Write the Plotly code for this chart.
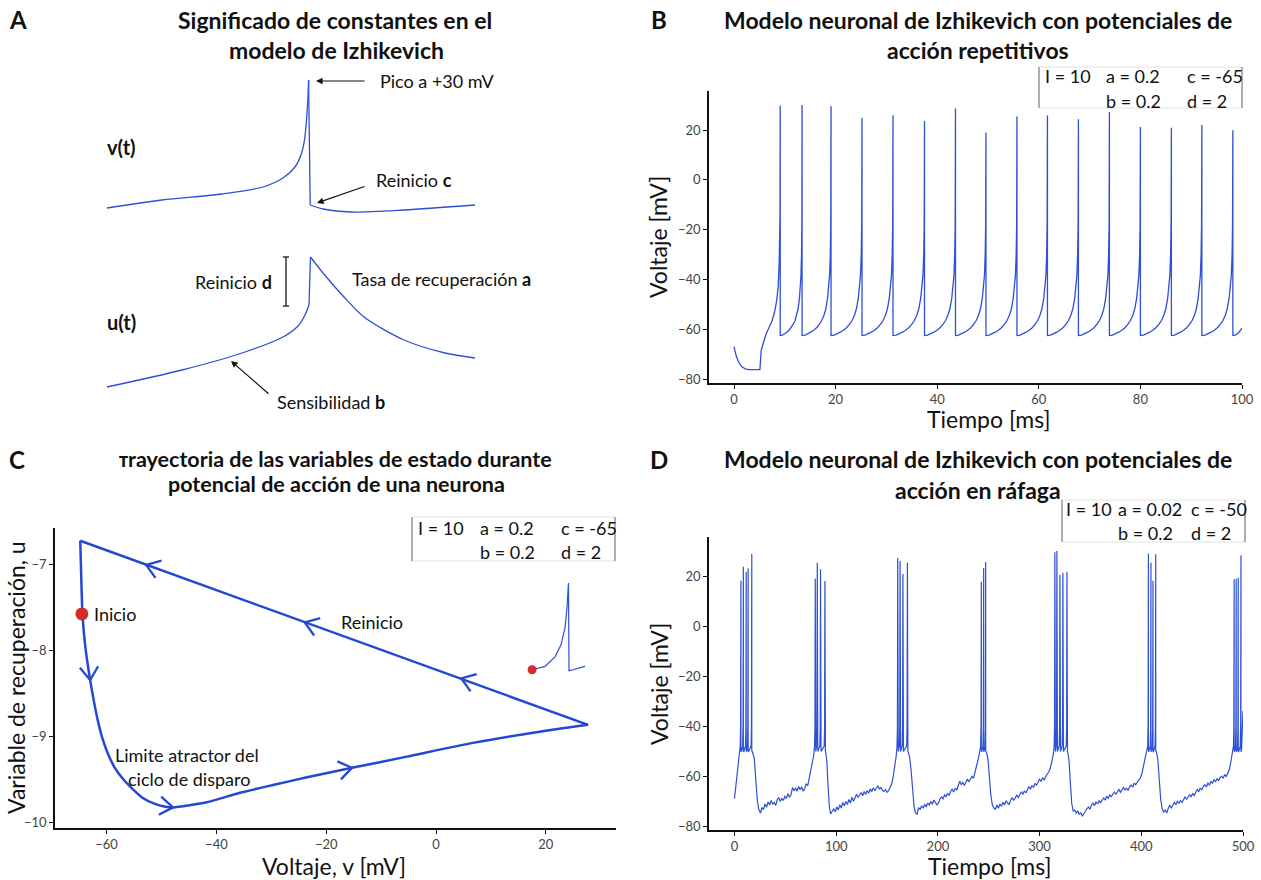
import math
import plotly.graph_objects as go

W, H = 1261, 880
FONT = "Lato"
BLUE = "#2c50d6"
BLUE_C = "#2448d2"
RED = "#d42b2b"
TXT = "#111111"
TICK = "#444444"

# ---------------- Panel A : schematic (pixel-like units) ----------------
A_v_rise_x = [107, 162, 222, 263, 283, 295, 301, 304.5, 306.5, 307.8, 308.6]
A_v_rise_y = [208, 200, 194, 187, 178, 167, 155, 140, 120, 100, 80]
A_v_drop_x = [308.6, 310.2]
A_v_drop_y = [80, 205]
A_v_after_x = [310.2, 323, 351, 404, 475]
A_v_after_y = [205, 209, 212, 210, 205]
A_u_rise_x = [107, 182, 242, 283, 298, 305, 309, 310.5]
A_u_rise_y = [387, 370, 353, 337, 326, 315, 305, 257]
A_u_decay_x = [310.5, 323, 344, 364, 404, 445, 475]
A_u_decay_y = [257, 273, 297, 317, 340, 353, 358]
A_bracket_x = [283, 289, None, 286, 286, None, 283, 289]
A_bracket_y = [257, 257, None, 257, 306, None, 306, 306]

# ---------------- Panel B : repetitive spiking ----------------
B_pre_t = [0, 0.4, 0.9, 1.5, 2.2, 3.0, 4.0, 5.1, 5.35, 5.8, 6.3, 6.9, 7.5, 8.0, 8.4, 8.7, 8.9, 9.05]
B_pre_v = [-67, -70.5, -73.2, -75.0, -75.9, -76.2, -76.2, -76.2, -68.5, -65, -62, -59.3, -56.6, -53, -48.5, -43, -33, -15]
B_spike_t = [9.1, 13.4, 19.1, 25.2, 31.3, 37.5, 43.6, 49.6, 55.7, 61.7, 67.8, 73.9, 80.0, 86.1, 92.1, 98.2]
B_spike_peak = [29.7, 30.0, 29.5, 24.8, 25.9, 23.6, 28.6, 19.0, 25.4, 25.8, 24.3, 27.2, 21.2, 20.9, 22.0, 19.9]
B_reset = -62.5
B_rise_frac = [0.1, 0.2, 0.3, 0.4, 0.5, 0.6, 0.68, 0.75, 0.82, 0.88, 0.92, 0.95, 0.975, 0.99]
B_rise_v = [-62.4, -61.9, -61.2, -60.4, -59.4, -58.0, -56.5, -54.6, -51.8, -47.5, -43.5, -38.5, -30, -18]
B_tail_t = [98.8, 99.4, 100]
B_tail_v = [-62.3, -61.2, -59.6]

# ---------------- Panel C : phase trajectory ----------------
C_left_v = [-64.8, -64.6, -64.4, -63.9, -63.0, -62.3, -61.6, -60.8, -59.8, -58.5, -57.0, -55.2, -53.4, -51.2, -49.5]
C_left_u = [-6.73, -7.2, -7.58, -7.95, -8.35, -8.6, -8.82, -9.02, -9.2, -9.37, -9.5, -9.62, -9.72, -9.79, -9.82]
C_low_v = [-47.9, -41.7, -35.7, -29.7, -23.5, -15.3, -5.3, 6.7, 18.9, 27.7]
C_low_u = [-9.83, -9.77, -9.66, -9.57, -9.48, -9.37, -9.24, -9.08, -8.95, -8.87]
C_start = (-64.5, -7.58)
C_arrow_tip_v = [-52.8, -23.9, 4.6, -63.0, -47.9, -15.3]
C_arrow_tip_u = [-7.01, -7.68, -8.33, -8.35, -9.83, -9.37]
C_arrow_tail_v = [-48.8, -19.9, 8.6, -63.4, -51.5, -19.3]
C_arrow_tail_u = [-7.10, -7.77, -8.42, -8.05, -9.80, -9.42]
C_inset_v = [17.5, 19.85, 21.68, 22.77, 23.5, 23.86, 24.13, 24.23, 24.95, 27.14]
C_inset_u = [-8.23, -8.19, -8.08, -7.94, -7.74, -7.51, -7.22, -8.24, -8.23, -8.19]

# ---------------- Panel D : bursting ----------------
D_reset = -50
D_burst_t = [
    [6.3, 8.7, 11.5, 13.4, 17.0],
    [79.4, 81.4, 84.6, 88.9],
    [160.5, 162.8, 165.6, 170.0],
    [242.7, 245.0, 247.0],
    [315.0, 317.0, 320.0, 322.9, 326.9],
    [407.0, 409.5, 411.5, 414.2],
    [491.3, 493.3, 495.3, 498.0],
]
D_burst_peak = [
    [18.1, 23.7, 21.7, 23.1, 28.8],
    [19.0, 25.3, 22.7, 18.0],
    [27.2, 26.0, 20.8, 25.3],
    [17.7, 23.2, 25.6],
    [29.5, 30.0, 20.4, 21.3, 21.7],
    [29.0, 25.3, 18.1, 28.7],
    [18.7, 18.9, 19.3, 28.3],
]
D_base_t = [
    [0, 1.5, 3, 4.5, 5.3],
    [17.8, 19.5, 21, 22.5, 24, 25.5, 27, 28.5, 30, 31.5, 33, 34.5, 36, 37.5, 39, 40.5, 42, 43.5, 45, 46.5,
     48, 49.5, 51, 52.5, 54, 55.5, 57, 58.5, 60, 61.5, 63, 64.5, 66, 67.5, 69, 70.5, 72, 73.5, 75, 76.5, 78],
    [89.7, 90.8, 92, 93.2, 94.5, 96, 97.5, 99, 100.5, 102, 103.5, 105, 106.5, 108, 109.5, 111, 112.5, 114,
     115.5, 117, 118.5, 120, 121.5, 123, 124.5, 126, 127.5, 129, 130.5, 132, 133.5, 135, 136.5, 138, 139.5,
     141, 142.5, 144, 145.5, 147, 148.5, 150, 151.5, 153, 154.5, 156, 157.5, 159],
    [170.8, 172, 173.5, 175, 176.5, 178, 179.5, 181, 182.5, 184, 185.5, 187, 188.5, 190, 191.5, 193, 194.5,
     196, 197.5, 199, 200.5, 202, 203.5, 205, 206.5, 208, 209.5, 211, 212.5, 214, 215.5, 217, 218.5, 220,
     221.5, 223, 224.5, 226, 227.5, 229, 230.5, 232, 233.5, 235, 236.5, 238, 239.5, 241],
    [247.8, 249.2, 250.5, 252, 253.5, 255, 256.5, 258, 259.5, 261, 262.5, 264, 265.5, 267, 268.5, 270, 271.5,
     273, 274.5, 276, 277.5, 279, 280.5, 282, 283.5, 285, 286.5, 288, 289.5, 291, 292.5, 294, 295.5, 297,
     298.5, 300, 301.5, 303, 304.5, 306, 307.5, 309, 310.5, 312, 313.5],
    [327.7, 329, 330.3, 331.6, 333, 334.5, 336, 337.5, 339, 340.5, 342, 343.5, 345, 346.5, 348, 349.5, 351,
     352.5, 354, 355.5, 357, 358.5, 360, 361.5, 363, 364.5, 366, 367.5, 369, 370.5, 372, 373.5, 375, 376.5,
     378, 379.5, 381, 382.5, 384, 385.5, 387, 388.5, 390, 391.5, 393, 394.5, 396, 397.5, 399, 400.5, 402, 403.5],
    [415, 416.3, 417.6, 419, 420.5, 422, 423.5, 425, 426.5, 428, 429.5, 431, 432.5, 434, 435.5, 437, 438.5,
     440, 441.5, 443, 444.5, 446, 447.5, 449, 450.5, 452, 453.5, 455, 456.5, 458, 459.5, 461, 462.5, 464,
     465.5, 467, 468.5, 470, 471.5, 473, 474.5, 476, 477.5, 479, 480.5, 482, 483.5, 485, 486.5, 488, 489.5],
    [498.6, 499.3, 500],
]
D_base_v = [
    [-69, -64, -58.5, -53, -50.5],
    [-50.5, -53, -62, -70, -73.5, -74.8, -72.6, -73.4, -71.2, -72.5, -70.4, -71.6, -69.8, -71.2, -70.6, -71.8,
     -69.5, -68.6, -70.2, -68.9, -69.8, -68.2, -68.9, -67.1, -68.4, -67.6, -64.6, -65.8, -64.9, -66.1, -64.2,
     -65.5, -64.3, -65.9, -65.2, -63.1, -63.9, -60.8, -58.5, -55.2, -51.5],
    [-50.6, -54, -64, -72, -75.2, -74.1, -73.2, -74.3, -72.4, -73.6, -71.5, -72.8, -70.6, -71.9, -70.2, -71.4,
     -69.4, -70.8, -68.5, -70.1, -68.9, -67.3, -68.6, -67.8, -66.6, -67.9, -66.2, -67.4, -65.8, -66.9, -65.1,
     -66.3, -64.7, -65.9, -64.9, -63.9, -65.2, -64.6, -65.8, -66.2, -65.4, -66.5, -65.9, -64.8, -63.2, -60.4,
     -56.5, -52],
    [-50.5, -52, -57, -66, -72, -74.8, -75.3, -72.6, -73.5, -71.9, -72.9, -71.3, -72.4, -70.8, -71.6, -70.2,
     -71.3, -69.6, -70.7, -71.5, -70.9, -69.2, -68.4, -69.1, -67.6, -68.3, -66.9, -67.8, -66.2, -65.3, -66.4,
     -64.9, -65.7, -63.4, -62.1, -63.5, -62.6, -63.8, -62.3, -61.2, -62.4, -61.3, -60.1, -60.9, -58.6, -56.2,
     -53.5, -50.5],
    [-50.5, -53, -60, -67.5, -71.5, -72.8, -73.3, -71.6, -72.9, -71.2, -72.1, -70.5, -71.6, -69.9, -70.8, -71.4,
     -69.7, -68.6, -69.8, -68.9, -67.7, -68.6, -67.2, -66.3, -67.4, -65.9, -66.8, -65.1, -64.2, -65.3, -63.8,
     -64.6, -62.9, -63.7, -62.4, -61.3, -62.2, -60.6, -61.5, -60.1, -59.2, -58.4, -56.9, -54.2, -51.3],
    [-50.6, -54, -63, -71, -74, -73.6, -74.8, -73.9, -75.4, -74.6, -76.1, -74.9, -74.2, -73.1, -72.4, -73.3,
     -71.6, -70.8, -71.9, -70.3, -71.2, -69.9, -70.6, -69.4, -68.8, -69.7, -68.1, -68.9, -67.6, -68.2, -67.1,
     -66.4, -67.3, -66.1, -65.4, -66.5, -65.2, -64.6, -65.6, -64.9, -65.8, -64.3, -63.6, -64.5, -62.9, -63.5,
     -62.4, -61.6, -60.9, -59.2, -56.5, -52.5],
    [-50.5, -53.5, -61, -69, -73, -74.4, -73.6, -74.8, -72.9, -71.8, -72.7, -71.3, -70.6, -71.5, -70.1, -70.9,
     -69.8, -70.6, -69.2, -68.4, -69.3, -68.1, -67.5, -68.4, -66.9, -67.8, -66.2, -65.4, -66.3, -64.8, -65.6,
     -64.1, -63.5, -64.4, -62.9, -63.6, -62.2, -62.9, -61.5, -62.3, -61.1, -61.8, -60.6, -60.1, -60.9, -59.4,
     -60.2, -58.9, -57.5, -54.5, -51],
    [-49, -45, -34],
]

# ---------------- helpers ----------------
def px(x):
    return x / W


def py(y):
    return 1 - y / H


# Panel B trace
bx, by = list(B_pre_t), list(B_pre_v)
n = len(B_spike_t)
for i in range(n):
    t0 = B_spike_t[i]
    bx += [t0, t0]
    by += [B_spike_peak[i], B_reset]
    if i + 1 < n:
        t1 = B_spike_t[i + 1]
        for f, v in zip(B_rise_frac, B_rise_v):
            bx.append(t0 + f * (t1 - t0))
            by.append(v)
bx += B_tail_t
by += B_tail_v

# Panel D trace
dx, dy = [], []
for k in range(len(D_burst_t)):
    dx += D_base_t[k]
    dy += D_base_v[k]
    for ts, pk in zip(D_burst_t[k], D_burst_peak[k]):
        dx += [ts - 0.7, ts - 0.3, ts, ts, ts + 0.5]
        dy += [-48, -40, pk, D_reset, -50.2]
dx += D_base_t[-1]
dy += D_base_v[-1]

# Panel C trajectory: smooth attractor branch + straight reset line
cv = C_left_v + C_low_v
cu = C_left_u + C_low_u
top_v = [C_low_v[-1], C_left_v[0]]
top_u = [C_low_u[-1], C_left_u[0]]

# chevron arrowheads for panel C, oriented along the trajectory (screen scale of axis 3)
SX, SY = 5.49, 86.0
ARM, HALF = 16.0, math.radians(35)
chx, chy = [], []
for hv, hu, tv, tu in zip(C_arrow_tip_v, C_arrow_tip_u, C_arrow_tail_v, C_arrow_tail_u):
    ddx, ddy = (tv - hv) * SX, (tu - hu) * SY
    nn = math.hypot(ddx, ddy)
    ddx, ddy = ddx / nn, ddy / nn
    pts = []
    for s in (1, -1):
        a = s * HALF
        rx = ddx * math.cos(a) - ddy * math.sin(a)
        ry = ddx * math.sin(a) + ddy * math.cos(a)
        pts.append((hv + rx * ARM / SX, hu + ry * ARM / SY))
    chx += [pts[0][0], hv, pts[1][0], None]
    chy += [pts[0][1], hu, pts[1][1], None]

fig = go.Figure()
for xs, ys in [(A_v_rise_x, A_v_rise_y), (A_v_after_x, A_v_after_y),
               (A_u_rise_x[:-1], A_u_rise_y[:-1]), (A_u_decay_x, A_u_decay_y)]:
    fig.add_trace(go.Scatter(x=xs, y=ys, mode="lines", line=dict(color=BLUE, width=1.3, shape="spline", smoothing=0.8),
                             xaxis="x", yaxis="y", hoverinfo="skip"))
for xs, ys in [(A_v_drop_x, A_v_drop_y), (A_u_rise_x[-2:], A_u_rise_y[-2:])]:
    fig.add_trace(go.Scatter(x=xs, y=ys, mode="lines", line=dict(color=BLUE, width=1.3),
                             xaxis="x", yaxis="y", hoverinfo="skip"))
fig.add_trace(go.Scatter(x=A_bracket_x, y=A_bracket_y, mode="lines", line=dict(color="#333", width=1.5),
                         xaxis="x", yaxis="y", hoverinfo="skip"))
fig.add_trace(go.Scatter(x=bx, y=by, mode="lines", line=dict(color=BLUE, width=1.3),
                         xaxis="x2", yaxis="y2"))
fig.add_trace(go.Scatter(x=cv, y=cu, mode="lines", line=dict(color=BLUE_C, width=2.5, shape="spline", smoothing=0.5),
                         xaxis="x3", yaxis="y3"))
fig.add_trace(go.Scatter(x=top_v, y=top_u, mode="lines", line=dict(color=BLUE_C, width=2.5),
                         xaxis="x3", yaxis="y3"))
fig.add_trace(go.Scatter(x=chx, y=chy, mode="lines", line=dict(color=BLUE_C, width=2.3),
                         xaxis="x3", yaxis="y3"))
fig.add_trace(go.Scatter(x=[C_start[0]], y=[C_start[1]], mode="markers",
                         marker=dict(color=RED, size=13), xaxis="x3", yaxis="y3"))
fig.add_trace(go.Scatter(x=C_inset_v, y=C_inset_u, mode="lines", line=dict(color=BLUE, width=1.2),
                         xaxis="x3", yaxis="y3"))
fig.add_trace(go.Scatter(x=[C_inset_v[0]], y=[C_inset_u[0]], mode="markers",
                         marker=dict(color=RED, size=9), xaxis="x3", yaxis="y3"))
fig.add_trace(go.Scatter(x=dx, y=dy, mode="lines", line=dict(color=BLUE, width=1.2),
                         xaxis="x4", yaxis="y4"))

axis_common = dict(showline=True, linecolor="#111", linewidth=1.5, ticks="outside", ticklen=4,
                   tickcolor="#111", tickwidth=1.2, showgrid=False, zeroline=False,
                   tickfont=dict(family=FONT, size=13, color=TICK))

layout = dict(
    width=W, height=H, autosize=False, margin=dict(l=0, r=0, t=0, b=0, autoexpand=False),
    paper_bgcolor="white", plot_bgcolor="white", showlegend=False,
    font=dict(family=FONT, color=TXT),
    xaxis=dict(domain=[0, 0.5], range=[0, W * 0.5], visible=False),
    yaxis=dict(domain=[0.5, 1], range=[H * 0.5, 0], visible=False),
    xaxis2=dict(domain=[px(709), px(1242)], range=[-(734 - 709) / 5.08, 100],
                tickvals=[0, 20, 40, 60, 80, 100], anchor="y2", **axis_common),
    yaxis2=dict(domain=[py(383), py(91)], range=[-80 - (383 - 379) / 2.49, 20 + (130 - 91) / 2.49],
                tickvals=[-80, -60, -40, -20, 0, 20], anchor="x2", **axis_common),
    xaxis3=dict(domain=[px(55), px(616)], range=[(55 - 436) / 5.49, (616 - 436) / 5.49],
                tickvals=[-60, -40, -20, 0, 20], anchor="y3", **axis_common),
    yaxis3=dict(domain=[py(828), py(528)], range=[-7 - (828 - 564) / 86, -7 + (564 - 528) / 86],
                tickvals=[-10, -9, -8, -7], anchor="x3", **axis_common),
    xaxis4=dict(domain=[px(709), px(1243)], range=[(709 - 734.5) / 1.017, 500],
                tickvals=[0, 100, 200, 300, 400, 500], anchor="y4", **axis_common),
    yaxis4=dict(domain=[py(830), py(537)], range=[-80 - (830 - 826) / 2.497, 20 + (576 - 537) / 2.497],
                tickvals=[-80, -60, -40, -20, 0, 20], anchor="x4", **axis_common),
)
fig.update_layout(**layout)

ann = []


def ptext(x, y, text, size=18, xanchor="center", bold=False, angle=0, color=TXT):
    t = f"<b>{text}</b>" if bold else text
    ann.append(dict(x=px(x), y=py(y), xref="paper", yref="paper", text=t, showarrow=False,
                    xanchor=xanchor, yanchor="middle", textangle=angle, align=xanchor if xanchor != "center" else "center",
                    font=dict(family=FONT, size=size, color=color)))


# panel letters
for lx, ly, L in [(18, 20, "A"), (659, 20, "B"), (17, 459, "C"), (659, 459, "D")]:
    ptext(lx, ly, L, size=24, bold=True)

# titles
ptext(335, 20, "Significado de constantes en el", size=23, bold=True)
ptext(336, 50, "modelo de Izhikevich", size=23, bold=True)
ptext(978, 20, "Modelo neuronal de Izhikevich con potenciales de", size=23, bold=True)
ptext(978, 50, "acción repetitivos", size=23, bold=True)
ptext(335, 459, "ᴛrayectoria de las variables de estado durante", size=21.5, bold=True)
ptext(336, 484, "potencial de acción de una neurona", size=21.5, bold=True)
ptext(978, 459, "Modelo neuronal de Izhikevich con potenciales de", size=23, bold=True)
ptext(978, 490, "acción en ráfaga", size=23, bold=True)

# axis titles
ptext(658, 237, "Voltaje [mV]", size=23, angle=-90)
ptext(989, 419, "Tiempo [ms]", size=23)
ptext(659, 684, "Voltaje [mV]", size=23, angle=-90)
ptext(990, 866, "Tiempo [ms]", size=23)
ptext(16, 678, "Variable de recuperación, u", size=23, angle=-90)
ptext(334, 866, "Voltaje, v [mV]", size=23)

shapes = []


def pbox(x0, x1, y0, y1):
    shapes.append(dict(type="rect", xref="paper", yref="paper", x0=px(x0), x1=px(x1), y0=py(y1), y1=py(y0),
                       line=dict(color="#e2e2e2", width=1)))
    for xx in (x0, x1):
        shapes.append(dict(type="line", xref="paper", yref="paper", x0=px(xx), x1=px(xx), y0=py(y1), y1=py(y0),
                           line=dict(color="#8a8a8a", width=1.3)))


pbox(1039, 1242, 67, 108)
pbox(412, 615, 517, 561)
pbox(1062, 1245, 500, 542)

for (x, y, t) in [(1043, 76, "I = 10"), (1104, 76, "a = 0.2"), (1185, 76, "c = -65"),
                  (1104, 101, "b = 0.2"), (1185, 101, "d = 2"),
                  (416, 528, "I = 10"), (478, 528, "a = 0.2"), (559, 528, "c = -65"),
                  (478, 552, "b = 0.2"), (559, 552, "d = 2"),
                  (1064, 509, "I = 10"), (1116, 509, "a = 0.02"), (1189, 509, "c = -50"),
                  (1116, 533, "b = 0.2"), (1189, 533, "d = 2")]:
    ptext(x, y, t, size=18, xanchor="left")

# panel A labels and arrows
ptext(105, 147, "v(t)", size=20, xanchor="left", bold=True)
ptext(105, 322, "u(t)", size=20, xanchor="left", bold=True)
ptext(378, 81, "Pico a +30 mV", size=18, xanchor="left")
ptext(374, 180, "Reinicio <b>c</b>", size=18, xanchor="left")
ptext(274, 282, "Reinicio <b>d</b>", size=18, xanchor="right")
ptext(350, 279, "Tasa de recuperación <b>a</b>", size=18, xanchor="left")
ptext(275, 402, "Sensibilidad <b>b</b>", size=18, xanchor="left")

for (tx, ty, hx, hy) in [(366, 81, 316, 81), (366, 186, 317, 203), (270, 395, 231, 361)]:
    ann.append(dict(x=hx, y=hy, ax=tx, ay=ty, xref="x", yref="y", axref="x", ayref="y", text="",
                    showarrow=True, arrowhead=2, arrowsize=1.1, arrowwidth=1.2, arrowcolor="#111"))

# panel C texts
ptext(92, 614, "Inicio", size=18, xanchor="left")
ptext(339, 622, "Reinicio", size=18, xanchor="left")
ptext(187, 755, "Limite atractor del", size=18)
ptext(189, 779, "ciclo de disparo", size=18)

fig.update_layout(annotations=ann, shapes=shapes)
fig.write_html(
    "out.html",
    config={"responsive": False, "displayModeBar": False},
    post_script="document.body.style.margin='0';document.body.style.overflow='hidden';"
                "document.documentElement.style.overflow='hidden';",
)
